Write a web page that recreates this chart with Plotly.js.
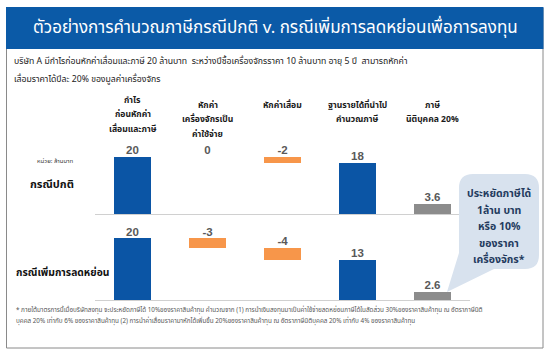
<!DOCTYPE html>
<html>
<head>
<meta charset="utf-8">
<script src="https://cdn.plot.ly/plotly-3.0.1.min.js"></script>
<style>html,body{margin:0;padding:0;background:#fff}#chart{width:550px;height:355px}</style>
</head>
<body>
<div id="chart"></div>
<script>
// ---- data ----
const categories = ['กำไร<br>ก่อนหักค่า<br>เสื่อมและภาษี', 'หักค่า<br>เครื่องจักรเป็น<br>ค่าใช้จ่าย', 'หักค่าเสื่อม', 'ฐานรายได้ที่นำไป<br>คำนวณภาษี', 'ภาษี<br>นิติบุคคล 20%'];
const measures = ['absolute', 'relative', 'relative', 'absolute', 'tax'];
const normalCase = [20, 0, -2, 18, 3.6];
const investCase = [20, -3, -4, 13, 2.6];
const rowLabels = ['กรณีปกติ', 'กรณีเพิ่มการลดหย่อน'];
const unitLabel = 'หน่วย: ล้านบาท';
const titleText = 'ตัวอย่างการคำนวณภาษีกรณีปกติ v. กรณีเพิ่มการลดหย่อนเพื่อการลงทุน';
const introLines = ['บริษัท A มีกำไรก่อนหักค่าเสื่อมและภาษี 20 ล้านบาท  ระหว่างปีซื้อเครื่องจักรราคา 10 ล้านบาท อายุ 5 ปี  สามารถหักค่า', 'เสื่อมราคาได้ปีละ 20% ของมูลค่าเครื่องจักร'];
const calloutLines = ['ประหยัดภาษีได้', '1ล้าน บาท', 'หรือ 10%', 'ของราคา', 'เครื่องจักร*'];
const footnoteLines = ['* ภายใต้มาตรการนี้เมื่อบริษัทลงทุน จะประหยัดภาษีได้ 10%ของราคาสินค้าทุน คำนวณจาก (1) การนำเงินลงทุนมาเป็นค่าใช้จ่ายลดหย่อนภาษีได้ในสัดส่วน 30%ของราคาสินค้าทุน ณ อัตราภาษีนิติ', 'บุคคล 20% เท่ากับ 6% ของราคาสินค้าทุน (2) การนำค่าเสื่อมราคามาหักได้เพิ่มขึ้น 20%ของราคาสินค้าทุน ณ อัตราภาษีนิติบุคคล 20% เท่ากับ 4% ของราคาสินค้าทุน'];

// ---- styles ----
const W = 550, H = 355;
const FONT = 'Noto Sans Thai, Tahoma, Leelawadee UI, sans-serif';
const kindColor = {absolute: '#0b55a5', relative: '#f7964a', tax: '#8c8c8c'};
const px = x => x / W, py = y => 1 - y / H;

function buildBars(vals) {
  let running = 0;
  const base = [], height = [], tops = [], colors = [];
  vals.forEach((v, i) => {
    const m = measures[i];
    if (m === 'relative') {
      const b = v < 0 ? running + v : running;
      base.push(b); height.push(Math.abs(v)); tops.push(Math.max(running, running + v));
      running += v;
    } else {
      base.push(0); height.push(v); tops.push(v);
      if (m === 'absolute') running = v;
    }
    colors.push(kindColor[m]);
  });
  return {base, height, tops, colors};
}

const traces = [];
[[normalCase, 'x', 'y'], [investCase, 'x2', 'y2']].forEach(([vals, xa, ya]) => {
  const b = buildBars(vals);
  traces.push({
    type: 'bar', x: categories, y: b.height, base: b.base, xaxis: xa, yaxis: ya,
    width: 0.5, marker: {color: b.colors, line: {width: 0}}, hoverinfo: 'skip'
  });
  traces.push({
    type: 'scatter', mode: 'text', x: categories, y: b.tops, xaxis: xa, yaxis: ya,
    text: vals.map(v => '<b>' + v + '</b>'), textposition: 'top center',
    textfont: {family: 'Arial, Liberation Sans, sans-serif', size: 11.5, color: '#595959'}, hoverinfo: 'skip'
  });
});

const xdom = [px(95), px(470)];
const axX = (anchor) => ({domain: xdom, anchor: anchor, type: 'category', range: [-0.5, 4.5],
  showticklabels: false, ticks: '', showgrid: false, zeroline: false,
  showline: true, linecolor: '#d0d0d0', linewidth: 1.2, fixedrange: true});
const axY = (dom, top) => ({domain: dom, range: [0, top], visible: false, showgrid: false, zeroline: false, fixedrange: true});

const annotations = [];
annotations.push({xref: 'paper', yref: 'paper', x: px(275), y: py(28), text: titleText, showarrow: false,
  font: {family: FONT, size: 17, color: '#ffffff'}, xanchor: 'center', yanchor: 'middle'});
introLines.forEach((t, i) => annotations.push({xref: 'paper', yref: 'paper', x: px(12), y: py(62 + i * 17), text: t,
  showarrow: false, xanchor: 'left', yanchor: 'middle', font: {family: FONT, size: 8.7, color: '#222222'}}));
// column headers, one annotation per line
const headerFirstLine = [100, 105, 105, 105, 105];
categories.forEach((c, i) => c.split('<br>').forEach((ln, j) => annotations.push({
  xref: 'x', yref: 'paper', x: c, y: py(headerFirstLine[i] + j * 14.8), text: '<b>' + ln + '</b>',
  showarrow: false, xanchor: 'center', yanchor: 'middle', font: {family: FONT, size: 8.6, color: '#1a1a1a'}})));
annotations.push({xref: 'paper', yref: 'paper', x: px(55), y: py(161), text: unitLabel, showarrow: false,
  xanchor: 'center', yanchor: 'middle', font: {family: FONT, size: 6, color: '#333333'}});
annotations.push({xref: 'paper', yref: 'paper', x: px(52), y: py(184), text: '<b>' + rowLabels[0] + '</b>', showarrow: false,
  xanchor: 'center', yanchor: 'middle', font: {family: FONT, size: 11, color: '#111111'}});
annotations.push({xref: 'paper', yref: 'paper', x: px(14), y: py(273), text: '<b>' + rowLabels[1] + '</b>', showarrow: false,
  xanchor: 'left', yanchor: 'middle', font: {family: FONT, size: 10.3, color: '#111111'}});
calloutLines.forEach((t, i) => annotations.push({xref: 'paper', yref: 'paper', x: px(499), y: py(194 + i * 16.5), text: '<b>' + t + '</b>',
  showarrow: false, xanchor: 'center', yanchor: 'middle', font: {family: FONT, size: 10.5, color: '#243b5e'}}));
footnoteLines.forEach((t, i) => annotations.push({xref: 'paper', yref: 'paper', x: px(14), y: py(310 + i * 11), text: t,
  showarrow: false, xanchor: 'left', yanchor: 'middle', font: {family: FONT, size: 6.3, color: '#555555'}}));

// bubble path
const L = 459, R = 539, T = 174, B = 269, r = 14;
const P = (x, y) => px(x).toFixed(4) + ',' + py(y).toFixed(4);
const bubble = 'M ' + P(L + r, T) + ' L ' + P(R - r, T) + ' Q ' + P(R, T) + ' ' + P(R, T + r) +
  ' L ' + P(R, B - r) + ' Q ' + P(R, B) + ' ' + P(R - r, B) + ' L ' + P(494, B) + ' L ' + P(447, 292) +
  ' L ' + P(L, B - 16) + ' L ' + P(L, T + r) + ' Q ' + P(L, T) + ' ' + P(L + r, T) + ' Z';

const shapes = [
  {type: 'rect', xref: 'paper', yref: 'paper', x0: px(6.5), x1: px(543), y0: py(348), y1: py(8), line: {color: '#8a8a8a', width: 1}, fillcolor: 'rgba(0,0,0,0)', layer: 'below'},
  {type: 'rect', xref: 'paper', yref: 'paper', x0: px(6), x1: px(543.5), y0: py(49), y1: py(7), line: {width: 0}, fillcolor: '#0b5aa7', layer: 'below'},
  {type: 'path', xref: 'paper', yref: 'paper', path: bubble, fillcolor: '#d8e2ee', line: {width: 0}, layer: 'above'}
];

const layout = {
  width: W, height: H, margin: {l: 0, r: 0, t: 0, b: 0},
  paper_bgcolor: '#ffffff', plot_bgcolor: 'rgba(0,0,0,0)', showlegend: false, bargap: 0,
  xaxis: axX('y'), yaxis: axY([py(214), py(140)], 74 / 2.85),
  xaxis2: axX('y2'), yaxis2: axY([py(300), py(228)], 72 / 3.08),
  annotations: annotations, shapes: shapes
};
Plotly.newPlot('chart', traces, layout, {staticPlot: true});
</script>
</body>
</html>
